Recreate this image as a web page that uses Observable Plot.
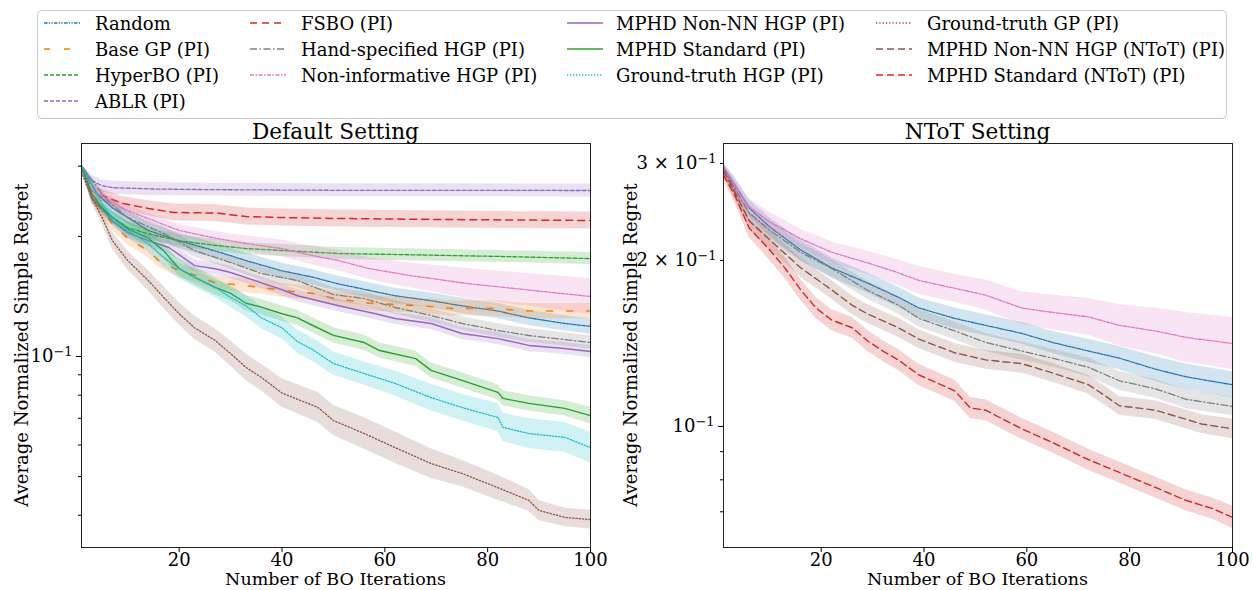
<!DOCTYPE html>
<html><head><meta charset="utf-8">
<script src="https://cdn.jsdelivr.net/npm/d3@7"></script>
<script src="https://cdn.jsdelivr.net/npm/@observablehq/plot@0.6"></script>
<style>
body{margin:0;background:#fff;}
#root{position:relative;width:1253px;height:590px;overflow:hidden;font-family:"DejaVu Serif",serif;}
.chart{position:absolute;top:120px;}
svg text{font-family:"DejaVu Serif",serif;}
</style>
</head><body><div id="root"></div>
<script>
// ---------- data: [iteration, mean regret, band factor] ----------
// Default Setting
const random = [[1,0.300,1.01],[4,0.256,1.03],[7,0.236,1.035],[10,0.223,1.04],[14,0.207,1.045],[20,0.195,1.045],[27,0.184,1.045],[33,0.174,1.045],[40,0.164,1.045],[46,0.158,1.045],[51,0.152,1.045],[62,0.142,1.045],[69,0.138,1.045],[75,0.134,1.045],[82,0.130,1.045],[88,0.125,1.045],[95,0.121,1.045],[100,0.119,1.045]];
const baseGP = [[1,0.300,1.01],[3,0.250,1.03],[5,0.232,1.04],[7,0.215,1.04],[10,0.198,1.04],[14,0.184,1.04],[16,0.174,1.04],[20,0.164,1.04],[23,0.160,1.04],[27,0.153,1.04],[32,0.151,1.04],[36,0.149,1.04],[41,0.146,1.04],[46,0.144,1.04],[50,0.140,1.04],[57,0.136,1.045],[67,0.134,1.045],[73,0.132,1.045],[81,0.132,1.045],[88,0.130,1.045],[97,0.130,1.045],[100,0.130,1.045]];
const hyperBO = [[1,0.300,1.01],[2,0.285,1.02],[3,0.250,1.025],[6,0.228,1.03],[10,0.2105,1.035],[14,0.203,1.035],[20,0.195,1.035],[27,0.190,1.035],[33,0.1865,1.035],[40,0.1844,1.035],[51,0.1812,1.035],[64,0.180,1.035],[84,0.178,1.035],[100,0.176,1.035]];
const ablr = [[1,0.301,1.01],[3,0.276,1.03],[5,0.268,1.035],[7,0.265,1.038],[15,0.263,1.038],[26,0.262,1.038],[51,0.261,1.038],[75,0.261,1.038],[100,0.2607,1.038]];
const fsbo = [[1,0.300,1.01],[3,0.261,1.03],[4,0.256,1.035],[9,0.242,1.04],[14,0.235,1.045],[19,0.2296,1.05],[27,0.229,1.05],[33,0.2243,1.05],[40,0.2231,1.05],[51,0.2218,1.05],[72,0.2205,1.05],[100,0.2193,1.05]];
const handSpec = [[1,0.300,1.01],[6,0.246,1.03],[10,0.223,1.035],[17,0.2034,1.04],[23,0.1844,1.04],[30,0.172,1.04],[36,0.1615,1.04],[43,0.155,1.04],[50,0.143,1.04],[56,0.1397,1.04],[62,0.1327,1.04],[69,0.1267,1.04],[75,0.121,1.04],[82,0.1162,1.04],[88,0.1129,1.04],[95,0.1103,1.04],[100,0.1084,1.04]];
const nonInf = [[1,0.300,1.01],[3,0.261,1.02],[10,0.232,1.03],[20,0.207,1.035],[27,0.198,1.04],[33,0.192,1.045],[40,0.1865,1.05],[46,0.179,1.055],[51,0.174,1.06],[57,0.166,1.065],[65,0.1596,1.075],[76,0.1524,1.09],[89,0.1463,1.10],[100,0.1414,1.11]];
const mphdNonNN = [[1,0.300,1.01],[3,0.250,1.025],[7,0.219,1.03],[10,0.2045,1.035],[14,0.1953,1.035],[18,0.1876,1.035],[23,0.169,1.035],[27,0.166,1.035],[30,0.1624,1.035],[33,0.1577,1.035],[36,0.153,1.035],[40,0.147,1.035],[43,0.142,1.035],[46,0.139,1.035],[51,0.134,1.035],[58,0.1282,1.035],[62,0.1245,1.035],[69,0.121,1.035],[75,0.1142,1.035],[82,0.1109,1.035],[88,0.1066,1.035],[95,0.1047,1.035],[100,0.1029,1.035]];
const mphdStd = [[1,0.300,1.01],[3,0.256,1.02],[5,0.236,1.03],[7,0.223,1.035],[10,0.209,1.04],[14,0.198,1.045],[17,0.184,1.045],[20,0.166,1.045],[23,0.158,1.045],[27,0.149,1.045],[30,0.144,1.045],[33,0.136,1.045],[36,0.133,1.045],[40,0.128,1.045],[43,0.125,1.045],[46,0.1196,1.045],[50,0.113,1.045],[56,0.1084,1.045],[59,0.1035,1.045],[66,0.0988,1.045],[69,0.0923,1.045],[75,0.0871,1.045],[82,0.0813,1.045],[83,0.0785,1.045],[88,0.0763,1.045],[95,0.0741,1.045],[100,0.0711,1.05]];
const gtHGP = [[1,0.300,1.01],[5,0.242,1.03],[7,0.223,1.04],[10,0.207,1.045],[14,0.192,1.05],[17,0.177,1.055],[20,0.166,1.06],[23,0.158,1.06],[27,0.149,1.06],[30,0.1406,1.06],[33,0.134,1.065],[36,0.125,1.065],[40,0.118,1.065],[43,0.109,1.07],[46,0.104,1.07],[50,0.096,1.07],[56,0.0906,1.07],[62,0.0856,1.075],[69,0.0789,1.08],[75,0.0745,1.08],[82,0.0703,1.085],[83,0.0664,1.085],[88,0.0641,1.09],[95,0.0627,1.09],[100,0.0591,1.095]];
const gtGP = [[1,0.290,1.01],[3,0.250,1.03],[5,0.223,1.04],[7,0.1953,1.05],[10,0.174,1.055],[14,0.155,1.06],[17,0.1406,1.065],[20,0.128,1.065],[23,0.118,1.07],[27,0.1097,1.07],[30,0.1017,1.075],[33,0.0939,1.08],[36,0.0886,1.08],[40,0.081,1.085],[47,0.0745,1.09],[50,0.0691,1.09],[56,0.0641,1.095],[62,0.0591,1.095],[69,0.0539,1.09],[75,0.0509,1.08],[82,0.0469,1.075],[88,0.0436,1.065],[90,0.0411,1.06],[95,0.0395,1.055],[100,0.039,1.055]];
// NToT Setting
const nRandom = [[1,0.295,1.02],[3,0.276,1.03],[6,0.249,1.035],[10,0.230,1.04],[16,0.209,1.043],[22,0.194,1.043],[29,0.182,1.043],[35,0.1715,1.043],[39,0.164,1.043],[46,0.157,1.045],[52,0.1525,1.045],[59,0.1475,1.047],[65,0.142,1.047],[72,0.137,1.05],[78,0.133,1.05],[85,0.127,1.053],[91,0.123,1.055],[100,0.119,1.056]];
const nHandSpec = [[1,0.294,1.02],[3,0.272,1.03],[6,0.244,1.035],[10,0.227,1.038],[16,0.207,1.038],[22,0.1935,1.038],[29,0.1766,1.038],[35,0.166,1.038],[39,0.157,1.038],[46,0.149,1.038],[52,0.142,1.038],[59,0.137,1.038],[65,0.133,1.038],[72,0.128,1.04],[78,0.121,1.04],[85,0.117,1.04],[91,0.112,1.04],[100,0.1087,1.04]];
const nNonInf = [[1,0.294,1.02],[3,0.276,1.03],[6,0.250,1.035],[10,0.235,1.04],[16,0.219,1.04],[22,0.207,1.045],[29,0.198,1.05],[35,0.190,1.055],[39,0.184,1.06],[46,0.178,1.06],[52,0.173,1.065],[59,0.164,1.07],[65,0.161,1.075],[72,0.158,1.08],[78,0.1525,1.09],[85,0.149,1.10],[91,0.145,1.11],[100,0.1414,1.115]];
const nMphdNonNN = [[1,0.291,1.02],[3,0.268,1.03],[6,0.236,1.035],[10,0.218,1.04],[16,0.194,1.04],[22,0.177,1.04],[26,0.166,1.04],[29,0.160,1.04],[35,0.151,1.04],[39,0.144,1.04],[46,0.136,1.04],[52,0.132,1.04],[59,0.130,1.04],[65,0.125,1.04],[72,0.119,1.04],[75,0.114,1.04],[78,0.109,1.04],[85,0.107,1.04],[91,0.103,1.04],[94,0.101,1.04],[100,0.099,1.042]];
const nMphdStd = [[1,0.2855,1.02],[3,0.265,1.03],[6,0.229,1.04],[10,0.209,1.045],[13,0.1935,1.045],[16,0.177,1.045],[19,0.164,1.045],[22,0.156,1.045],[26,0.151,1.045],[29,0.143,1.045],[32,0.137,1.045],[35,0.132,1.045],[39,0.124,1.045],[46,0.116,1.045],[49,0.108,1.045],[52,0.107,1.045],[59,0.099,1.045],[65,0.0935,1.045],[72,0.087,1.045],[78,0.0825,1.045],[85,0.0775,1.045],[91,0.0734,1.045],[96,0.071,1.045],[100,0.0684,1.048]];

const xTicks = [20, 40, 60, 80, 100];
const leftMajor = [0.1];
const leftMinor = [0.04, 0.05, 0.06, 0.07, 0.08, 0.09, 0.2, 0.3];
const rightMajor = [0.1];
const rightLabeledMinor = [0.2, 0.3];
const rightMinor = [0.07, 0.08, 0.09];
const titles = ["Default Setting", "NToT Setting"];
const xLabel = "Number of BO Iterations";
const yLabel = "Average Normalized Simple Regret";

// ---------- styles ----------
const C = {blue:"#1f77b4", orange:"#ff7f0e", green:"#2ca02c", red:"#d62728", purple:"#9467bd", brown:"#8c564b", pink:"#e377c2", gray:"#7f7f7f", cyan:"#17becf"};
const S = {
  random:   {label:"Random", color:C.blue, dash:"3.5,1.3,1.3,1.3,1.3,1.3", w:1.3},
  baseGP:   {label:"Base GP (PI)", color:C.orange, dash:"6,14", w:1.6},
  hyperBO:  {label:"HyperBO (PI)", color:C.green, dash:"4,2", w:1.3},
  ablr:     {label:"ABLR (PI)", color:C.purple, dash:"4,2", w:1.3},
  fsbo:     {label:"FSBO (PI)", color:C.red, dash:"7,5", w:1.5},
  hand:     {label:"Hand-specified HGP (PI)", color:C.gray, dash:"7,2.5,1.5,2.5", w:1.3},
  nonInf:   {label:"Non-informative HGP (PI)", color:C.pink, dash:"4,1.5,1.5,1.5", w:1.3},
  mNonNN:   {label:"MPHD Non-NN HGP (PI)", color:C.purple, dash:null, w:1.4},
  mStd:     {label:"MPHD Standard (PI)", color:C.green, dash:null, w:1.4},
  gtHGP:    {label:"Ground-truth HGP (PI)", color:C.cyan, dash:"1.3,1.7", w:1.3},
  gtGP:     {label:"Ground-truth GP (PI)", color:C.brown, dash:"1.3,2", w:1.3},
  mNonNNT:  {label:"MPHD Non-NN HGP (NToT) (PI)", color:C.brown, dash:"7,4", w:1.4},
  mStdT:    {label:"MPHD Standard (NToT) (PI)", color:C.red, dash:"7,4", w:1.4}
};

const leftSeries = [[random,S.random],[baseGP,S.baseGP],[hyperBO,S.hyperBO],[ablr,S.ablr],[fsbo,S.fsbo],[handSpec,S.hand],[nonInf,S.nonInf],[mphdNonNN,S.mNonNN],[mphdStd,S.mStd],[gtHGP,S.gtHGP],[gtGP,S.gtGP]];
const rightSeries = [[nRandom,S.random],[nHandSpec,S.hand],[nNonInf,S.nonInf],[nMphdNonNN,S.mNonNNT],[nMphdStd,S.mStdT]];

const fmtPow = d => {
  const e = Math.floor(Math.log10(d) + 1e-9);
  const m = Math.round(d / Math.pow(10, e));
  return (m === 1 ? "" : m + " × ") + "10^−" + (-e);
};

function makeChart(series, yDomain, axes, width, ml, mr) {
  const marks = [];
  for (const [data, s] of series) {
    marks.push(Plot.areaY(data, {x: d => d[0], y1: d => d[1] / d[2], y2: d => d[1] * d[2], fill: s.color, fillOpacity: 0.2}));
    marks.push(Plot.line(data, {x: d => d[0], y: d => d[1], stroke: s.color, strokeWidth: s.w, strokeDasharray: s.dash || undefined}));
  }
  marks.push(Plot.frame({stroke: "#222", strokeWidth: 1}));
  marks.push(Plot.axisX({ticks: xTicks, tickSize: 5, tickPadding: 1, label: null, tickFormat: d => String(d)}));
  for (const a of axes) {
    marks.push(Plot.axisY({ticks: a.ticks, tickSize: a.size, tickPadding: 4, label: null, tickFormat: a.labeled ? fmtPow : () => ""}));
  }
  return Plot.plot({
    width, height: 470, marginLeft: ml, marginRight: mr, marginTop: 23, marginBottom: 43,
    x: {domain: [1, 100]},
    y: {type: "log", domain: yDomain},
    style: {fontFamily: '"DejaVu Serif", serif', fontSize: "18px", color: "#000", background: "transparent", overflow: "visible"},
    marks
  });
}

function supify(svg) {
  const ns = "http://www.w3.org/2000/svg";
  svg.querySelectorAll("text").forEach(t => {
    const s = t.textContent;
    if (!s.includes("^")) return;
    const [base, exp] = s.split("^");
    while (t.firstChild) t.removeChild(t.firstChild);
    const a = document.createElementNS(ns, "tspan"); a.textContent = base; t.appendChild(a);
    const b = document.createElementNS(ns, "tspan"); b.textContent = exp;
    b.setAttribute("dy", "-0.45em"); b.setAttribute("font-size", "0.72em"); t.appendChild(b);
  });
}

const root = document.getElementById("root");
const left = makeChart(leftSeries, [0.0332, 0.342], [
  {ticks: leftMajor, size: 5, labeled: true},
  {ticks: leftMinor, size: 3, labeled: false}
], 620, 81, 30);
const right = makeChart(rightSeries, [0.0603, 0.326], [
  {ticks: rightMajor, size: 5, labeled: true},
  {ticks: rightLabeledMinor, size: 3, labeled: true},
  {ticks: rightMinor, size: 3, labeled: false}
], 633, 103, 21);
const w1 = document.createElement("div"); w1.className = "chart"; w1.style.left = "0px"; w1.appendChild(left); root.appendChild(w1);
const w2 = document.createElement("div"); w2.className = "chart"; w2.style.left = "620px"; w2.appendChild(right); root.appendChild(w2);
supify(left); supify(right);

// ---------- overlay: titles, axis labels, legend ----------
const ov = d3.select(root).append("svg").attr("width", 1253).attr("height", 590)
  .style("position", "absolute").style("left", "0px").style("top", "0px").style("pointer-events", "none");
const centers = [335.5, 977.5];
centers.forEach((cx, i) => {
  ov.append("text").attr("x", cx).attr("y", 131).attr("text-anchor", "middle").attr("dominant-baseline", "central")
    .attr("font-size", 21.6).attr("fill", "#000").text(titles[i]);
  ov.append("text").attr("x", cx).attr("y", 579).attr("text-anchor", "middle").attr("dominant-baseline", "central")
    .attr("font-size", 17.5).attr("fill", "#000").text(xLabel);
});
[[21, 345], [630, 345]].forEach(([x, y]) => {
  ov.append("text").attr("transform", `translate(${x},${y}) rotate(-90)`).attr("text-anchor", "middle")
    .attr("dominant-baseline", "central").attr("font-size", 18).attr("fill", "#000").text(yLabel);
});
ov.append("rect").attr("x", 37.5).attr("y", 10.5).attr("width", 1189).attr("height", 108).attr("rx", 4)
  .attr("fill", "#fff").attr("fill-opacity", 0.8).attr("stroke", "#ccc").attr("stroke-width", 1);
const legendCols = [
  {hx: 44, tx: 95, items: [S.random, S.baseGP, S.hyperBO, S.ablr]},
  {hx: 250, tx: 301, items: [S.fsbo, S.hand, S.nonInf]},
  {hx: 567, tx: 616, items: [S.mNonNN, S.mStd, S.gtHGP]},
  {hx: 876, tx: 927, items: [S.gtGP, S.mNonNNT, S.mStdT]}
];
legendCols.forEach(col => {
  col.items.forEach((s, r) => {
    const y = 23 + r * 26;
    ov.append("line").attr("x1", col.hx).attr("x2", col.hx + 36).attr("y1", y).attr("y2", y)
      .attr("stroke", s.color).attr("stroke-width", s.w).attr("stroke-dasharray", s.dash);
    ov.append("text").attr("x", col.tx).attr("y", y).attr("dominant-baseline", "central")
      .attr("font-size", 18).attr("fill", "#000").text(s.label);
  });
});
</script></body></html>
